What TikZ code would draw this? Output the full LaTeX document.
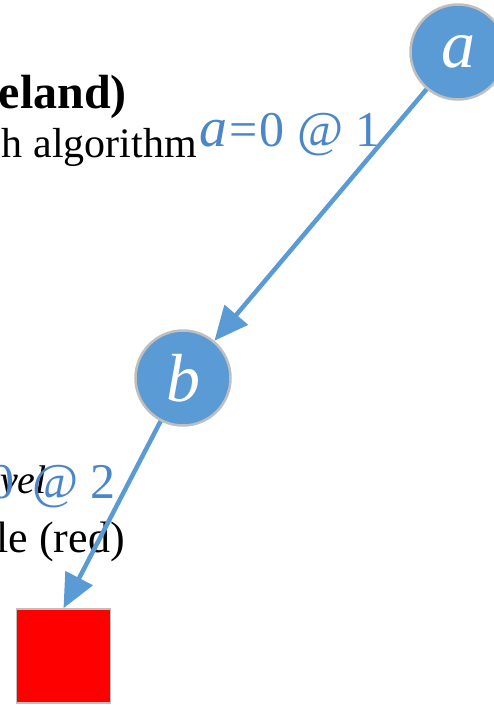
\documentclass[tikz,border=0pt]{standalone}
\usepackage{fontspec}
\setmainfont{Liberation Serif}
\usetikzlibrary{arrows.meta}
\definecolor{nodeblue}{HTML}{5B9BD5}
\definecolor{textblue}{HTML}{4A86C8}
\definecolor{rimgray}{HTML}{BFBFBF}
\newcommand{\fsz}[1]{\fontsize{#1}{#1}\selectfont}

\begin{document}
\begin{tikzpicture}[
    x=1pt,y=-1pt,
    vertex/.style={circle, draw=rimgray, line width=2.5pt, fill=nodeblue, minimum size=95pt, inner sep=0pt, text=white, font=\fsz{68}\itshape},
    target/.style={draw=rimgray, line width=1.5pt, fill=red, minimum size=94pt, inner sep=0pt},
    link/.style={draw=nodeblue, line width=4.5pt, -{Triangle[length=34pt,width=30pt]}},
    slide/.style={anchor=base east, inner sep=0pt, font=\fsz{43}},
    tag/.style={anchor=base east, inner sep=0pt, text=textblue, font=\fsz{50}}
]
    \useasboundingbox (0,0) rectangle (494,705);

    % slide text left behind the tree
    \node[slide, font=\fsz{48}\bfseries] (title) at (127,108) {eland)};
    \node[slide, font=\fsz{42}] (algo) at (197,157) {h algorithm};
    \node[slide, font=\fsz{40}\itshape] (lvl) at (47,493) {vel};
    \node[slide, font=\fsz{44}] (leaf) at (125,552) {le (red)};

    % edge labels
    \node[tag] (lab1) at (381,146) {{\fsz{56}\textit{a}}\hspace{2pt}=\hspace{2pt}0 @ 1};
    \node[tag] (lab2) at (116,498) {0\hspace{18pt}@ 2};

    % tree
    \node[vertex] (a) at (458,52) {a};
    \node[vertex] (b) at (183,378) {b};
    \node[target] (sq) at (63.5,656) {};

    \draw[link] (a) -- (b);
    \draw[link] (b) -- (sq.north);
\end{tikzpicture}
\end{document}
